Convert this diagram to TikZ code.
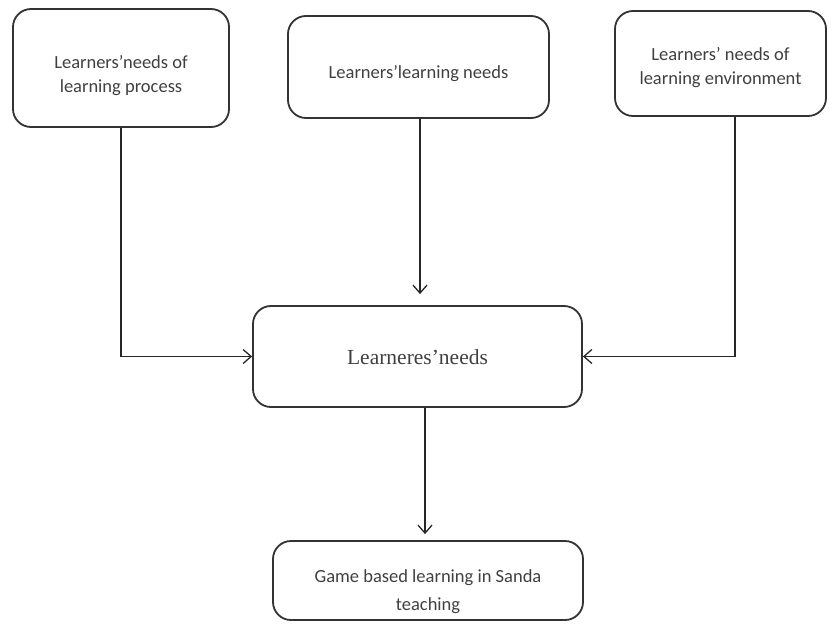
\documentclass[tikz,border=0pt]{standalone}
\usepackage{fontspec}
\setmainfont{Carlito}
\newfontfamily\serifface{Liberation Serif}
\usetikzlibrary{arrows.meta,calc}
\newcommand{\boxtext}[2]{\raisebox{#1}[\height][\depth]{\begin{tabular}{@{}c@{}}#2\end{tabular}}}
\begin{document}
\begin{tikzpicture}[x=1pt,y=-1pt,
  box/.style={draw=black!80, line width=1.8pt, rounded corners=18pt, fill=white,
    align=center, text=black!75, font=\fontsize{18.5}{24}\selectfont, inner sep=0pt},
  conn/.style={draw=black!85, line width=1.6pt, -{Straight Barb[length=8pt,width=14pt,line width=1.3pt]}}]
\useasboundingbox (0,0) rectangle (839,637);
\node[box, minimum width=216pt, minimum height=118pt] (b1) at (121,68)
  {\boxtext{-7.5pt}{Learners’needs of\\learning process}};
\node[box, minimum width=261pt, minimum height=102pt] (b2) at (418.5,67)
  {\boxtext{-7pt}{Learners’learning needs}};
\node[box, minimum width=211pt, minimum height=105pt] (b3) at (720.5,63.5)
  {\boxtext{-4.5pt}{Learners’ needs of\\learning environment}};
\node[box, minimum width=329pt, minimum height=101pt, font=\serifface\fontsize{21.5}{26}\selectfont] (c) at (417.5,356.5)
  {\boxtext{-3pt}{Learneres’needs}};
\node[box, minimum width=310pt, minimum height=79pt] (d) at (428,580.5)
  {\boxtext{-11.5pt}{Game based learning in Sanda\\[4pt]teaching}};
\draw[conn] (b1.south) |- (c.west);
\draw[conn, shorten >=11pt] ($(b2.south)+(1.5,0)$) -- ($(c.north)+(2.5,0)$);
\draw[conn] ($(b3.south)+(14.5,0)$) |- (c.east);
\draw[conn, shorten >=6pt] ($(c.south)+(7.5,0)$) -- ($(d.north)+(-3,0)$);
\end{tikzpicture}
\end{document}
